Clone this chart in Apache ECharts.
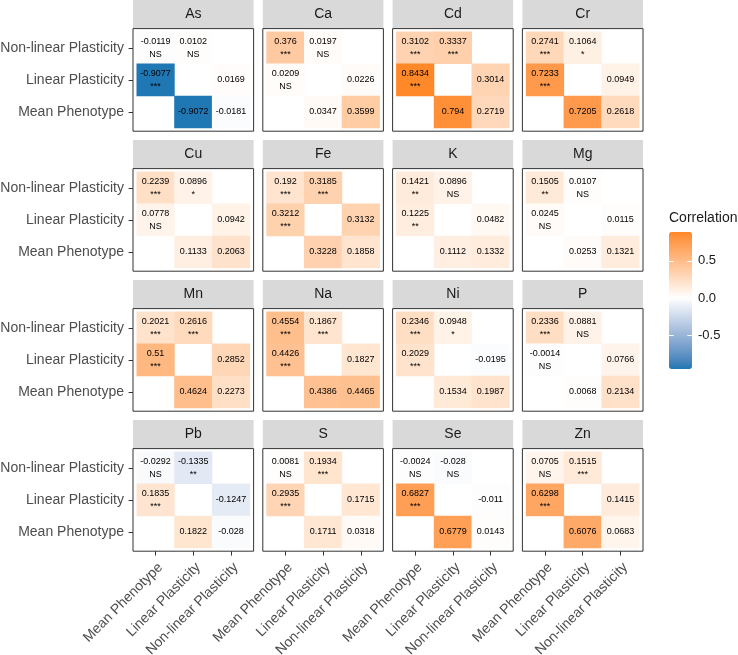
<!DOCTYPE html>
<html>
<head>
<meta charset="utf-8">
<script src="https://cdn.jsdelivr.net/npm/echarts@6/dist/echarts.min.js"></script>
<style>html,body{margin:0;padding:0;background:#fff}#c{width:738px;height:655px}</style>
</head>
<body>
<div id="c"></div>
<script>
// ---------- data ----------
const elements = ['As','Ca','Cd','Cr','Cu','Fe','K','Mg','Mn','Na','Ni','P','Pb','S','Se','Zn'];
const xCats = ['Mean Phenotype','Linear Plasticity','Non-linear Plasticity'];
const yCats = ['Mean Phenotype','Linear Plasticity','Non-linear Plasticity']; // bottom to top
const nlVsMean    = [-0.0119,0.376,0.3102,0.2741,0.2239,0.192,0.1421,0.1505,0.2021,0.4554,0.2346,0.2336,-0.0292,0.0081,-0.0024,0.0705];
const nlVsMeanSig = ['NS','***','***','***','***','***','**','**','***','***','***','***','NS','NS','NS','NS'];
const nlVsLin     = [0.0102,0.0197,0.3337,0.1064,0.0896,0.3185,0.0896,0.0107,0.2616,0.1867,0.0948,0.0881,-0.1335,0.1934,-0.028,0.1515];
const nlVsLinSig  = ['NS','NS','***','*','*','***','NS','NS','***','***','*','NS','**','***','NS','***'];
const linVsMean   = [-0.9077,0.0209,0.8434,0.7233,0.0778,0.3212,0.1225,0.0245,0.51,0.4426,0.2029,-0.0014,0.1835,0.2935,0.6827,0.6298];
const linVsMeanSig= ['***','NS','***','***','NS','***','**','NS','***','***','***','NS','***','***','***','***'];
const linVsNl     = [0.0169,0.0226,0.3014,0.0949,0.0942,0.3132,0.0482,0.0115,0.2852,0.1827,-0.0195,0.0766,-0.1247,0.1715,-0.011,0.1415];
const meanVsLin   = [-0.9072,0.0347,0.794,0.7205,0.1133,0.3228,0.1112,0.0253,0.4624,0.4386,0.1534,0.0068,0.1822,0.1711,0.6779,0.6076];
const meanVsNl    = [-0.0181,0.3599,0.2719,0.2618,0.2063,0.1858,0.1332,0.1321,0.2273,0.4465,0.1987,0.2134,-0.028,0.0318,0.0143,0.0683];
const legendTicks = [-0.5, 0, 0.5];

// ---------- colour scale (ggplot gradient2, Lab interpolation) ----------
function toLin(c){c/=255;return c<=0.04045?c/12.92:Math.pow((c+0.055)/1.055,2.4);}
function fromLin(c){c=c<=0.0031308?12.92*c:1.055*Math.pow(c,1/2.4)-0.055;return Math.max(0,Math.min(255,Math.round(c*255)));}
function hex2lab(h){
  const r=toLin(parseInt(h.substr(1,2),16)),g=toLin(parseInt(h.substr(3,2),16)),b=toLin(parseInt(h.substr(5,2),16));
  let X=(0.4124564*r+0.3575761*g+0.1804375*b)/0.95047,Y=(0.2126729*r+0.7151522*g+0.0721750*b),Z=(0.0193339*r+0.1191920*g+0.9503041*b)/1.08883;
  const f=t=>t>0.008856?Math.cbrt(t):7.787*t+16/116;
  const fx=f(X),fy=f(Y),fz=f(Z);
  return [116*fy-16,500*(fx-fy),200*(fy-fz)];
}
function lab2hex(L,a,b){
  const fy=(L+16)/116,fx=fy+a/500,fz=fy-b/200;
  const fi=f=>{const f3=f*f*f;return f3>0.008856?f3:(f-16/116)/7.787;};
  const X=fi(fx)*0.95047,Y=fi(fy),Z=fi(fz)*1.08883;
  const r=3.2404542*X-1.5371385*Y-0.4985314*Z,g=-0.9692660*X+1.8760108*Y+0.0415560*Z,bb=0.0556434*X-0.2040259*Y+1.0572252*Z;
  return 'rgb('+fromLin(r)+','+fromLin(g)+','+fromLin(bb)+')';
}
const LOW=hex2lab('#1F77B4'),MID=hex2lab('#FFFFFF'),HIGH=hex2lab('#FF7F0E');
const allVals=[].concat(nlVsMean,nlVsLin,linVsMean,linVsNl,meanVsLin,meanVsNl);
const vMin=Math.min.apply(null,allVals),vMax=Math.max.apply(null,allVals);
const absMax=Math.max(Math.abs(vMin),Math.abs(vMax));
function colorOf(v){
  const t=0.5+v/(2*absMax);
  let A,B,u;
  if(t<0.5){A=LOW;B=MID;u=t/0.5;}else{A=MID;B=HIGH;u=(t-0.5)/0.5;}
  return lab2hex(A[0]+(B[0]-A[0])*u,A[1]+(B[1]-A[1])*u,A[2]+(B[2]-A[2])*u);
}
const stops=[];const NS_=80;
for(let i=0;i<=NS_;i++){stops.push(colorOf(vMin+(vMax-vMin)*i/NS_));}
// colourbar extends half a bin (of 20) past the data limits
const halfBin=(vMax-vMin)/40;

// ---------- layout ----------
const X0=133, PITCHX=129.8, PW=120.6, STRIPH=28.6, PH=102.6, PITCHY=140, Y0=0;
const MX=3.75, MY=3.2;
const FONT='"Liberation Sans", Arial, Helvetica, sans-serif';

const grids=[],xAxes=[],yAxes=[],series=[],graphics=[];
elements.forEach((el,i)=>{
  const r=Math.floor(i/4),c=i%4;
  const px=X0+c*PITCHX, sy=Y0+r*PITCHY, py=sy+STRIPH;
  grids.push({left:px+MX,top:py+MY,width:PW-2*MX,height:PH-2*MY,outerBoundsMode:'none',containLabel:false});
  xAxes.push({type:'category',gridIndex:i,data:xCats,offset:MY,
    axisLine:{show:false},splitLine:{show:false},
    axisTick:{show:r===3,alignWithLabel:true,length:4.4,lineStyle:{color:'#333333',width:1}},
    axisLabel:{show:r===3,rotate:45,fontSize:14,color:'#4D4D4D',fontFamily:FONT,margin:9,interval:0,align:'right',verticalAlign:'top'}});
  yAxes.push({type:'category',gridIndex:i,data:yCats,offset:MX,
    axisLine:{show:false},splitLine:{show:false},
    axisTick:{show:c===0,alignWithLabel:true,length:4.4,lineStyle:{color:'#333333',width:1}},
    axisLabel:{show:c===0,fontSize:14,color:'#4D4D4D',fontFamily:FONT,margin:9,interval:0}});
  const cells=[
    [0,2,nlVsMean[i],nlVsMean[i]+'\n'+nlVsMeanSig[i]],
    [1,2,nlVsLin[i],nlVsLin[i]+'\n'+nlVsLinSig[i]],
    [0,1,linVsMean[i],linVsMean[i]+'\n'+linVsMeanSig[i]],
    [2,1,linVsNl[i],String(linVsNl[i])],
    [1,0,meanVsLin[i],String(meanVsLin[i])],
    [2,0,meanVsNl[i],String(meanVsNl[i])]
  ];
  series.push({type:'heatmap',xAxisIndex:i,yAxisIndex:i,
    data:cells.map(d=>({value:[d[0],d[1],d[2]],txt:d[3]})),
    label:{show:true,fontSize:9,lineHeight:12.6,color:'#000',fontFamily:FONT,formatter:p=>p.data.txt},
    emphasis:{disabled:true},itemStyle:{borderWidth:0}});
  graphics.push({type:'rect',shape:{x:px,y:sy,width:PW,height:STRIPH},style:{fill:'#D9D9D9'},z:10});
  graphics.push({type:'text',x:px+PW/2,y:sy+STRIPH/2,style:{text:el,fontSize:14,fill:'#1A1A1A',fontFamily:FONT,align:'center',verticalAlign:'middle'},z:11});
  graphics.push({type:'rect',shape:{x:px,y:py,width:PW,height:PH},style:{fill:'none',stroke:'#333333',lineWidth:1},z:12});
});

// legend axis grid
const LG={left:669,top:232,width:23,height:137};
const li=grids.length;
grids.push({left:LG.left,top:LG.top,width:LG.width,height:LG.height,outerBoundsMode:'none',containLabel:false});
xAxes.push({type:'category',gridIndex:li,show:false,data:['a']});
yAxes.push({type:'value',gridIndex:li,position:'right',min:vMin-halfBin,max:vMax+halfBin,
  axisLine:{show:false},splitLine:{show:false},
  axisTick:{show:true,inside:true,length:4.6,customValues:legendTicks,lineStyle:{color:'#FFFFFF',width:1}},
  axisLabel:{show:true,customValues:legendTicks,formatter:v=>Number(v).toFixed(1),fontSize:13,color:'#1A1A1A',fontFamily:FONT,margin:6},z:5});
yAxes.push({type:'value',gridIndex:li,position:'left',min:vMin-halfBin,max:vMax+halfBin,
  axisLine:{show:false},splitLine:{show:false},axisLabel:{show:false},
  axisTick:{show:true,inside:true,length:4.6,customValues:legendTicks,lineStyle:{color:'#FFFFFF',width:1}},z:5});
graphics.push({type:'text',x:669,y:218,style:{text:'Correlation',fontSize:14,fill:'#1A1A1A',fontFamily:FONT,align:'left',verticalAlign:'middle'}});

const chart=echarts.init(document.getElementById('c'),null,{renderer:'canvas'});
chart.setOption({
  backgroundColor:'#FFFFFF',
  animation:false,
  grid:grids,xAxis:xAxes,yAxis:yAxes,series:series,
  visualMap:{type:'continuous',min:vMin,max:vMax,dimension:2,seriesIndex:series.map((s,k)=>k),
    left:LG.left,top:LG.top,itemWidth:LG.width,itemHeight:LG.height,padding:0,calculable:false,
    text:null,showLabel:false,hoverLink:false,inRange:{color:stops},orient:'vertical'},
  graphic:graphics
});
</script>
</body>
</html>
